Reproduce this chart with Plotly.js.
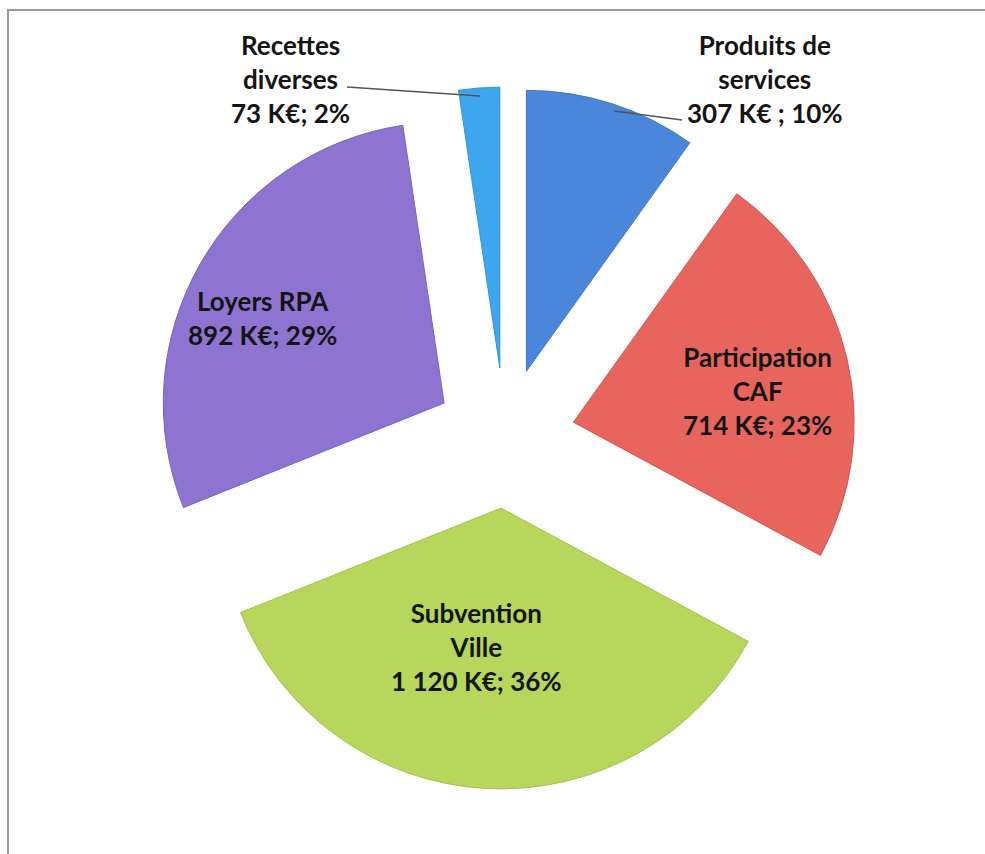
<!DOCTYPE html>
<html>
<head>
<meta charset="utf-8">
<script src="https://cdn.plot.ly/plotly-3.0.1.min.js"></script>
<style>
  html, body { margin: 0; padding: 0; background: #ffffff; }
  #chart { width: 985px; height: 854px; }
</style>
</head>
<body>
<div id="chart"></div>
<script>
// ---- Data ----
const categories = ["Produits de services", "Participation CAF", "Subvention Ville", "Loyers RPA", "Recettes diverses"];
const displayNames = ["Produits de<br>services", "Participation<br>CAF", "Subvention<br>Ville", "Loyers RPA", "Recettes<br>diverses"];
const valuesKEuro = [307, 714, 1120, 892, 73];
const separators = [" ; ", "; ", "; ", "; ", "; "];
const sliceColors = ["#4A86DA", "#E8655E", "#B6D65C", "#8D74D0", "#3DA6EE"];
const sliceEdges = ["#3f78c8", "#d4544f", "#a3c24c", "#7a62bb", "#3394d4"];

// ---- Layout geometry (pixels) ----
const W = 985, H = 854;
const M = { l: 154, r: 129, t: 87, b: 65 };
const PW = W - M.l - M.r, PH = H - M.t - M.b;
const px = x => (x - M.l) / PW;
const py = y => 1 - (y - M.t) / PH;

const total = valuesKEuro.reduce((a, b) => a + b, 0);
const fmt = v => String(v).replace(/\B(?=(\d{3})+(?!\d))/g, "\u00a0");
const labelText = categories.map((c, i) =>
  displayNames[i] + "<br>" + fmt(valuesKEuro[i]) + " K€" + separators[i] +
  Math.round(valuesKEuro[i] / total * 100) + "%");

// label anchor positions (pixel centres) for each category, in the same order
const labelPos = [[765, 79], [757, 391], [476, 647], [262, 318], [290, 79]];

const annotations = labelText.map((t, i) => ({
  text: t,
  x: px(labelPos[i][0]), y: py(labelPos[i][1]),
  xref: "paper", yref: "paper",
  xanchor: "center", yanchor: "middle",
  showarrow: false,
  font: { family: "Lato, 'Open Sans', sans-serif", size: 26, color: "#141414", weight: 700 }
}));

const leader = (x0, y0, x1, y1) => ({
  type: "line", xref: "paper", yref: "paper",
  x0: px(x0), y0: py(y0), x1: px(x1), y1: py(y1),
  line: { color: "#555555", width: 1.3 }
});

const shapes = [
  // outer frame of the chart area
  { type: "rect", xref: "paper", yref: "paper",
    x0: px(8), y0: py(10), x1: px(1010), y1: py(880),
    line: { color: "#9a9a9a", width: 2 }, fillcolor: "rgba(0,0,0,0)", layer: "below" },
  leader(347, 87, 480, 96),     // Recettes diverses
  leader(614, 111, 682, 120)    // Produits de services
];

const trace = {
  type: "pie",
  labels: categories,
  values: valuesKEuro,
  sort: false,
  direction: "clockwise",
  rotation: 0,
  pull: [0.25, 0.25, 0.25, 0.25, 0.25],
  textinfo: "none",
  hoverinfo: "label+value+percent",
  marker: { colors: sliceColors, line: { color: sliceEdges, width: 1 } },
  domain: { x: [0, 1], y: [0, 1] }
};

const layout = {
  width: W, height: H,
  margin: M,
  paper_bgcolor: "#ffffff",
  plot_bgcolor: "#ffffff",
  showlegend: false,
  annotations: annotations,
  shapes: shapes
};

Plotly.newPlot("chart", [trace], layout, { displayModeBar: false, staticPlot: true });
</script>
</body>
</html>
